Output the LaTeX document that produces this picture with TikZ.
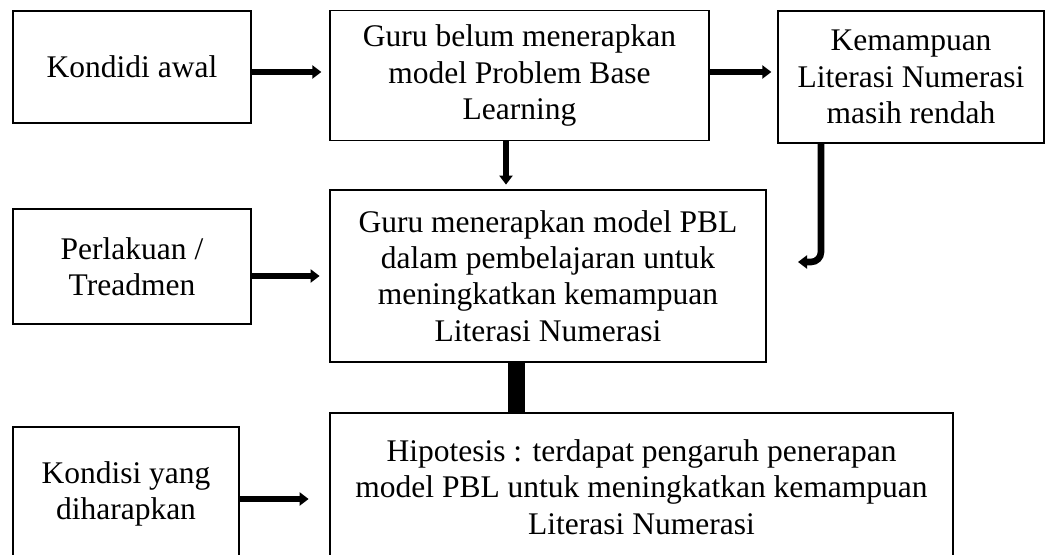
\documentclass[tikz,border=0pt]{standalone}
\usepackage{fontspec}
\setmainfont{Liberation Serif}
\usetikzlibrary{arrows.meta}
\begin{document}
\begin{tikzpicture}[x=0.5pt,y=-0.5pt,
  box/.style={draw, line width=0.65pt, inner sep=0pt, align=center,
    font=\fontsize{15.75}{18.2}\selectfont},
  boldbox/.style={box, line width=1.4pt},
  arr/.style={line width=3.3pt, -{Triangle[length=4.5pt,width=6.5pt]}},
  bar/.style={line width=8.5pt}]
\useasboundingbox (0,0) rectangle (1046,555);
\clip (0,0) rectangle (1046,555);
\node[box, minimum width=119pt, minimum height=56pt] (A) at (132,67) {Kondidi awal};
\node[box, minimum width=189.5pt, minimum height=65pt] (B) at (519.5,75.5) {Guru belum menerapkan\\model Problem Base\\Learning};
\node[box, minimum width=133pt, minimum height=66pt] (C) at (911,77) {Kemampuan\\Literasi Numerasi\\masih rendah};
\node[boldbox, minimum width=218pt, minimum height=86pt] (D) at (548,276) {Guru menerapkan model PBL\\dalam pembelajaran untuk\\meningkatkan kemampuan\\Literasi Numerasi};
\node[box, minimum width=119pt, minimum height=57.5pt] (P) at (132,266.5) {Perlakuan /\\Treadmen};
\node[boldbox, minimum width=311.5pt, minimum height=74pt] (E) at (641.5,487) {Hipotesis : terdapat pengaruh penerapan\\model PBL untuk meningkatkan kemampuan\\Literasi Numerasi};
\node[box, minimum width=113pt, minimum height=67pt] (F) at (126,494) {Kondisi yang\\diharapkan};
\coordinate (cd) at (798,262);
\draw[arr, shorten >=4pt] ([yshift=-2.5pt]A.east) -- ([yshift=-2.5pt]A.east -| B.west);
\draw[arr, shorten >=3pt] ([yshift=1.75pt]B.east) -- ([yshift=1.75pt]B.east -| C.west);
\draw[arr, shorten >=2pt] ([xshift=-6.75pt]B.south) -- ([xshift=-6.75pt]B.south |- D.north);
\draw[arr, rounded corners=5pt] ([xshift=-45pt]C.south) |- (cd);
\draw[arr, shorten >=4.5pt] (P.east |- D.west) -- (D.west);
\draw[bar] ([xshift=-15.75pt]D.south) -- ([xshift=-15.75pt]D.south |- E.north);
\draw[arr, shorten >=10pt] ([yshift=-2.5pt]F.east) -- ([yshift=-2.5pt]F.east -| E.west);
\end{tikzpicture}
\end{document}
